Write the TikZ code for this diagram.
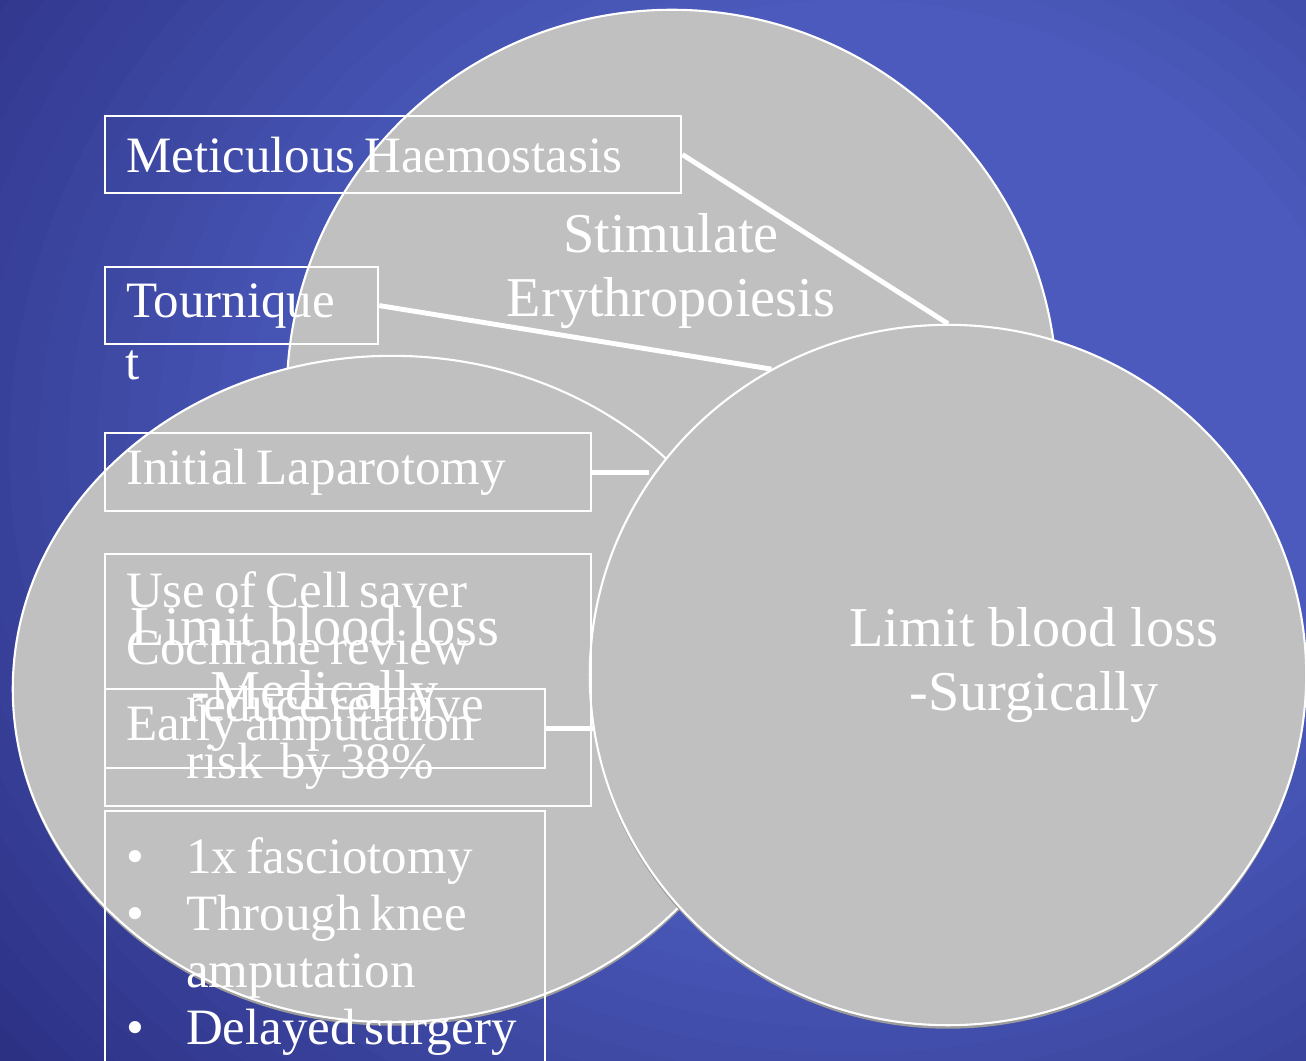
\documentclass[tikz,border=0pt]{standalone}
\usepackage{fontspec}
\setmainfont{Liberation Serif}
\newfontfamily\boxfont{Liberation Serif}[WordSpace=0.7]
\usepackage{tikz}
\usetikzlibrary{positioning,shapes.geometric,shadows}
\definecolor{slideblue}{HTML}{4B5ABC}
\definecolor{slidebluedark}{HTML}{2C3184}
\definecolor{blobgray}{HTML}{C0C0C0}
\definecolor{blobshadow}{HTML}{9C9C9C}
\newcommand\plainspaces{\spaceskip=0pt\relax}

\begin{document}
\begin{tikzpicture}[x=0.01cm,y=-0.01cm,
  blob/.style={ellipse,draw=white,line width=0.6pt,fill=blobgray,inner sep=0pt,
    drop shadow={shadow xshift=0pt,shadow yshift=-0.035cm,fill=blobshadow,opacity=1}},
  blobtext/.style={text=white,align=center,font=\fontsize{16}{18}\selectfont},
  itembox/.style={draw=white,line width=0.6pt,text=white,align=left,anchor=north west,
    inner xsep=0.21cm,font=\boxfont\fontsize{14.5}{16.2}\selectfont,
    execute at begin node=\plainspaces},
  link/.style={draw=white,line width=1.4pt}]
  % slide background, lighter towards the middle
  \useasboundingbox (0,0) rectangle (1306,1061);
  \clip (0,0) rectangle (1306,1061);
  \fill[slidebluedark] (0,0) rectangle (1306,1061);
  \foreach \k in {1,...,20} {
    \pgfmathsetmacro\ringry{9.6-\k*0.255}
    \pgfmathsetmacro\ringrx{1.15*\ringry}
    \pgfmathsetmacro\ringmix{\k*5}
    \fill[slideblue!\ringmix!slidebluedark] (850,450) ellipse [x radius=\ringrx cm, y radius=\ringry cm];
  }

  % the three circles
  \node[blob,minimum width=7.7cm,minimum height=7.7cm] (ery) at (672,395) {};
  \node[blob,minimum width=7.58cm,minimum height=6.66cm] (med) at (392,689) {};
  \node[blob,minimum width=7.16cm,minimum height=7.0cm] (surg) at (948,675) {};

  \node[blobtext] (erytext) at (671,271) {Stimulate\\Erythropoiesis};
  \node[blobtext] (medtext) at (315,664) {Limit blood loss\\-Medically};
  \node[blobtext] (surgtext) at (1034,665) {Limit blood loss\\-Surgically};

  % surgical measures
  \node[itembox,text width=5.34cm,minimum height=0.77cm] (meti) at (104,115) {Meticulous Haemostasis};
  \node[itembox,text width=2.31cm,minimum height=0.77cm] (tour) at (104,266) {Tournique};
  \node[text=white,font=\boxfont\fontsize{14.5}{16.2}\selectfont,anchor=base west,inner sep=0pt] (tourt) at (125,380) {t};
  \node[itembox,text width=4.44cm,minimum height=0.78cm] (lap) at (104,432) {Initial Laparotomy};
  \node[itembox,text width=4.44cm,minimum height=2.52cm] (cell) at (104,553)
    {Use of Cell saver\\Cochrane review\\\hspace*{0.6cm}reduce relative\\\hspace*{0.6cm}risk~~by 38\%};
  \node[itembox,text width=3.98cm,minimum height=0.79cm] (amp) at (104,688) {Early amputation};
  \node[itembox,text width=3.98cm,minimum height=2.7cm] (steps) at (104,810)
    {\makebox[0.6cm][l]{\textbullet}1x~fasciotomy\\\makebox[0.6cm][l]{\textbullet}Through~knee\\\hspace*{0.6cm}amputation\\\makebox[0.6cm][l]{\textbullet}Delayed~surgery};

  \draw[link] (meti.east) -- (surg.north);
  \draw[link] (tour.east) -- (surg.120);
  \draw[link] (lap.east) -- (lap.east -| surg.147);
  \draw[link] (amp.east) -- (amp.east -| surg.189);
\end{tikzpicture}
\end{document}
